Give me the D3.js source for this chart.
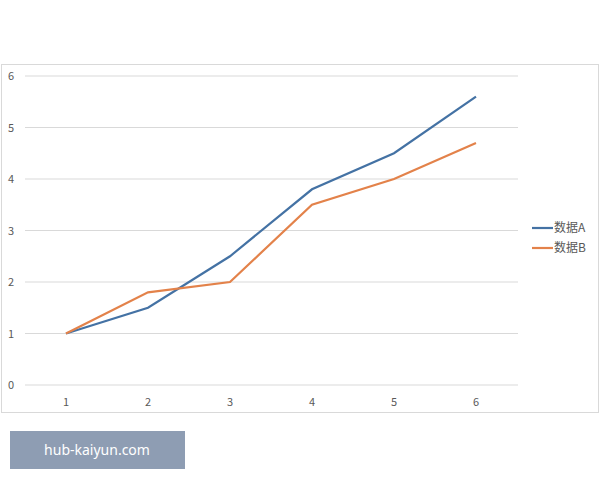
<!DOCTYPE html>
<html><head><meta charset="utf-8">
<script src="https://cdn.jsdelivr.net/npm/d3@7"></script>
<style>body{margin:0;background:#fff}</style></head>
<body><svg id="c" width="600" height="480"></svg>
<script>
const categories=[1,2,3,4,5,6];
const seriesA=[1,1.5,2.5,3.8,4.5,5.6];
const seriesB=[1,1.8,2,3.5,4,4.7];
const yTicks=[0,1,2,3,4,5,6];
const names=["数据A","数据B"];
const colors=["#4472a4","#e3824a"];
const font="'Noto Sans CJK SC','Noto Sans',sans-serif";
const svg=d3.select("#c");
svg.append("rect").attr("x",1.5).attr("y",64.5).attr("width",597).attr("height",348).attr("fill","#fff").attr("stroke","#d9d9d9");
const x=d3.scalePoint().domain(categories).range([66,476]);
const y=d3.scaleLinear().domain([0,6]).range([385,76]);
const g=svg.append("g");
yTicks.forEach(t=>{
 g.append("line").attr("x1",25).attr("x2",518).attr("y1",y(t)).attr("y2",y(t)).attr("stroke","#d9d9d9");
 g.append("text").attr("x",11).attr("y",y(t)+4).attr("text-anchor","middle").attr("font-size",11).attr("fill","#595959").attr("font-family",font).text(t);
});
categories.forEach(c=>g.append("text").attr("x",x(c)).attr("y",406).attr("text-anchor","middle").attr("font-size",11).attr("fill","#595959").attr("font-family",font).text(c));
const line=d3.line().x((d,i)=>x(categories[i])).y(d=>y(d));
[seriesA,seriesB].forEach((s,i)=>{
 g.append("path").attr("d",line(s)).attr("fill","none").attr("stroke",colors[i]).attr("stroke-width",2.2);
 const ly=228+i*20;
 g.append("line").attr("x1",532).attr("x2",553).attr("y1",ly).attr("y2",ly).attr("stroke",colors[i]).attr("stroke-width",2.2);
 g.append("text").attr("x",554).attr("y",ly+4).attr("font-size",12).attr("fill","#595959").attr("font-family",font).text(names[i]);
});
svg.append("rect").attr("x",10).attr("y",431).attr("width",175).attr("height",38).attr("fill","#8e9db3");
svg.append("text").attr("x",97).attr("y",455).attr("text-anchor","middle").attr("font-size",14).attr("fill","#fff").attr("font-family","'Noto Sans',sans-serif").text("hub-kaiyun.com");
</script></body></html>
